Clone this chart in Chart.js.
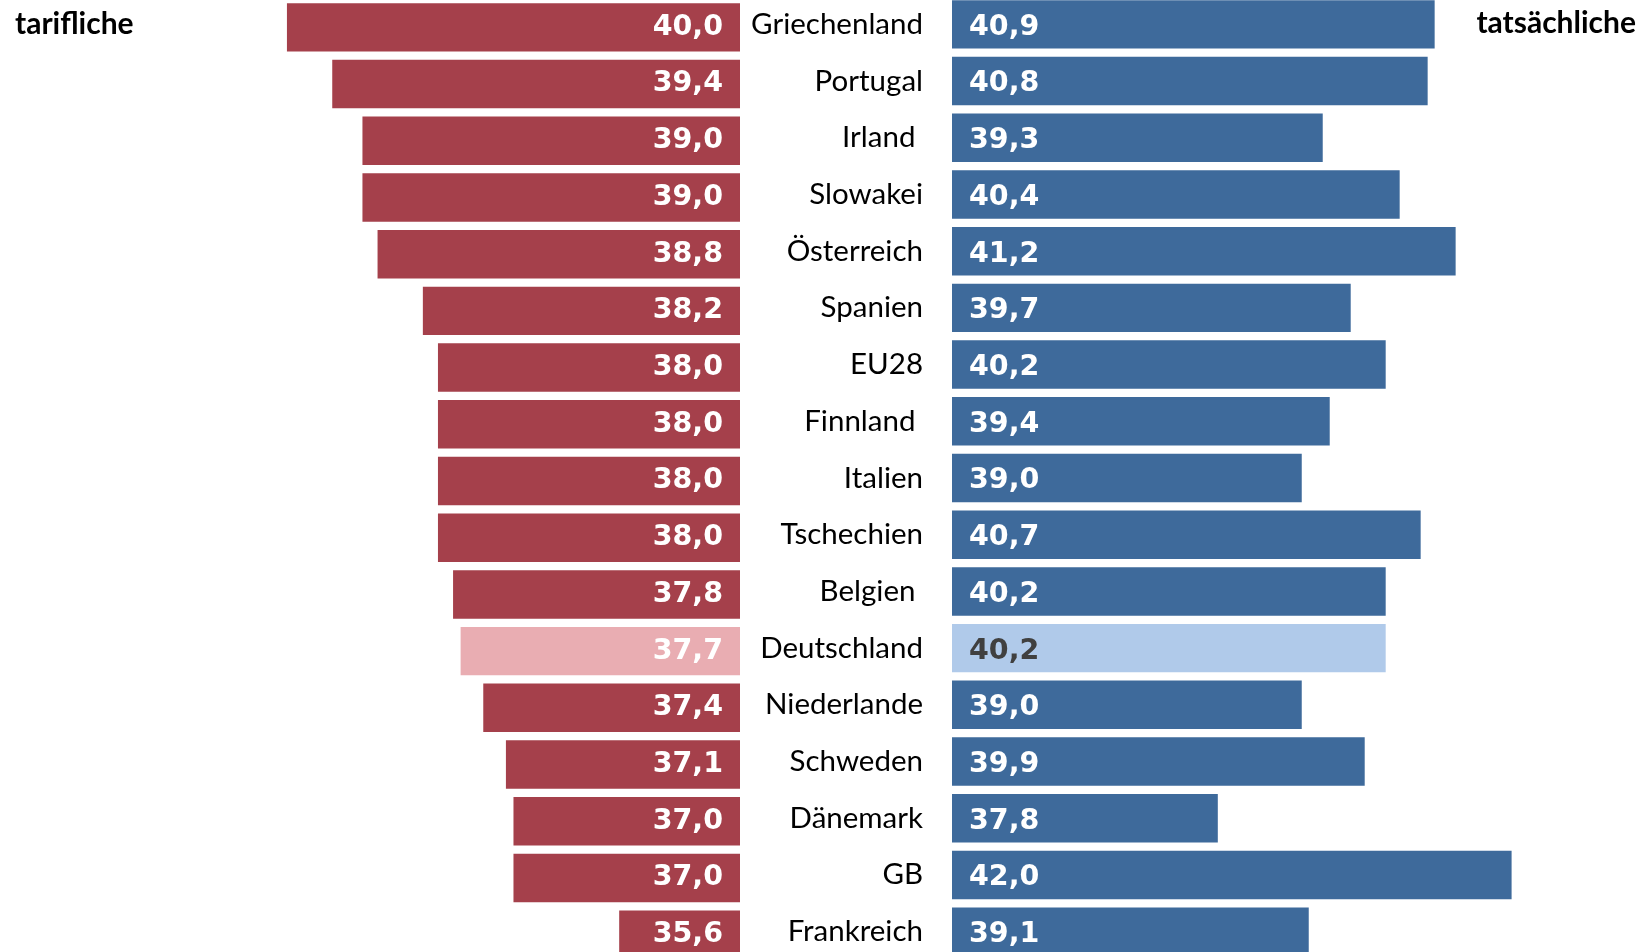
<!DOCTYPE html>
<html lang="de">
<head>
<meta charset="utf-8">
<script src="https://cdn.jsdelivr.net/npm/chart.js@4.4.1/dist/chart.umd.min.js"></script>
<style>
html, body { margin:0; padding:0; width:1648px; height:952px; overflow:hidden; background:#fff; }
#leftBox { position:absolute; left:0; top:-1.5px; width:740px; height:964px; }
#rightBox { position:absolute; left:740px; top:-4px; width:908px; height:964px; }
</style>
</head>
<body>
<div id="leftBox"><canvas id="leftChart"></canvas></div>
<div id="rightBox"><canvas id="rightChart"></canvas></div>
<script>
// Wochenarbeitszeit: tarifliche vs. tatsächliche (Stunden)
const countries = ['Griechenland', 'Portugal', 'Irland ', 'Slowakei', 'Österreich', 'Spanien', 'EU28',
    'Finnland ', 'Italien', 'Tschechien', 'Belgien ', 'Deutschland', 'Niederlande', 'Schweden',
    'Dänemark', 'GB', 'Frankreich'];
const tarifValues = [40.0, 39.4, 39.0, 39.0, 38.8, 38.2, 38.0, 38.0, 38.0, 38.0, 37.8, 37.7, 37.4, 37.1, 37.0, 37.0, 35.6];
const actualValues = [40.9, 40.8, 39.3, 40.4, 41.2, 39.7, 40.2, 39.4, 39.0, 40.7, 40.2, 40.2, 39.0, 39.9, 37.8, 42.0, 39.1];
const highlight = 'Deutschland';

const redColors = countries.map(c => c.trim() === highlight ? '#e9adb2' : '#a5404b');
const blueColors = countries.map(c => c.trim() === highlight ? '#b0caea' : '#3e6a9b');

const fmt = v => v.toFixed(1).replace('.', ',');

// draws the value into each bar + the headline of each half
function makeLabels(side, values, dy, title, titleX, titleY) {
    return {
        id: 'valueLabels' + side,
        afterDatasetsDraw(chart) {
            const ctx = chart.ctx;
            const xs = chart.scales.x;
            const ys = chart.scales.y;
            const basePx = xs.getPixelForValue(xs.min);
            ctx.save();
            ctx.font = 'bold 28.5px "DejaVu Sans"';
            ctx.textBaseline = 'middle';
            values.forEach((v, i) => {
                const y = ys.getPixelForValue(i) + dy;
                const isHi = countries[i].trim() === highlight;
                if (side === 'left') {
                    ctx.fillStyle = '#ffffff';
                    ctx.textAlign = 'right';
                    ctx.fillText(fmt(v), basePx - 17, y);
                } else {
                    ctx.fillStyle = isHi ? '#404040' : '#ffffff';
                    ctx.textAlign = 'left';
                    ctx.fillText(fmt(v), basePx + 17, y);
                }
            });
            ctx.font = 'bold 30px Lato';
            ctx.fillStyle = '#000';
            ctx.textBaseline = 'alphabetic';
            ctx.textAlign = side === 'left' ? 'left' : 'right';
            ctx.fillText(title, titleX, titleY);
            ctx.restore();
        }
    };
}

const leftChart = new Chart(document.getElementById('leftChart').getContext('2d'), {
    type: 'bar',
    data: {
        labels: countries,
        datasets: [{
            data: tarifValues,
            backgroundColor: redColors,
            borderWidth: 0,
            barPercentage: 1,
            categoryPercentage: 0.854
        }]
    },
    options: {
        indexAxis: 'y',
        responsive: true,
        maintainAspectRatio: false,
        animation: false,
        layout: { padding: 0 },
        scales: {
            x: { type: 'linear', reverse: true, min: 34, max: 43.8, display: false },
            y: { display: false }
        },
        plugins: {
            legend: { display: false },
            tooltip: { enabled: false }
        }
    },
    plugins: [makeLabels('left', tarifValues, 0, 'tarifliche', 15, 34.5)]
});

const rightChart = new Chart(document.getElementById('rightChart').getContext('2d'), {
    type: 'bar',
    data: {
        labels: countries,
        datasets: [{
            data: actualValues,
            backgroundColor: blueColors,
            borderWidth: 0,
            barPercentage: 1,
            categoryPercentage: 0.854
        }]
    },
    options: {
        indexAxis: 'y',
        responsive: true,
        maintainAspectRatio: false,
        animation: false,
        layout: { padding: 0 },
        scales: {
            x: { type: 'linear', min: 34, max: 43.95, display: false },
            y: {
                grid: { display: false, drawTicks: false },
                border: { display: false },
                ticks: { color: '#000', font: { family: 'Lato', size: 29.5 }, padding: 29, autoSkip: false },
                afterFit(scale) {
                    scale.width = 212;
                    scale.paddingTop = 0;
                    scale.paddingBottom = 0;
                }
            }
        },
        plugins: {
            legend: { display: false },
            tooltip: { enabled: false }
        }
    },
    plugins: [makeLabels('right', actualValues, 3, 'tatsächliche', 896, 37)]
});
</script>
</body>
</html>
